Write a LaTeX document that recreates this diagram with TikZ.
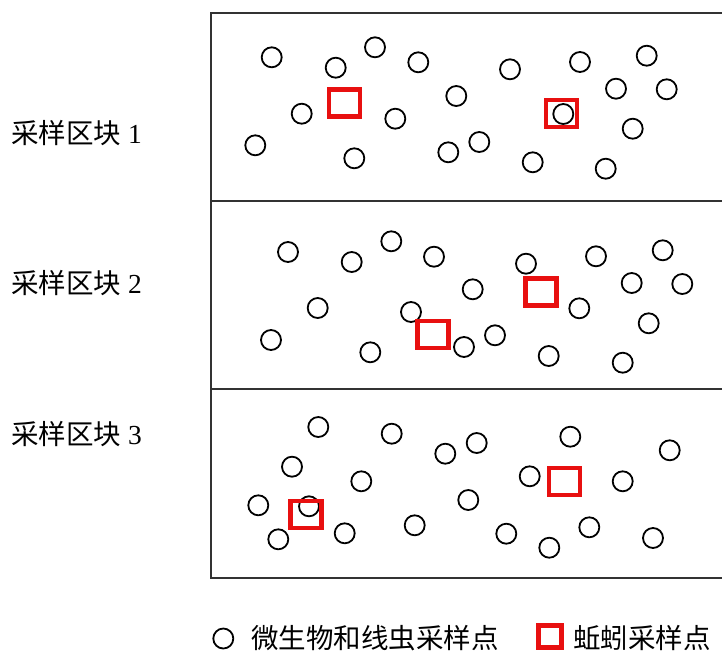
\documentclass[tikz,border=0pt]{standalone}
\usepackage{fontspec}
\setmainfont{Liberation Serif}
\newfontfamily\cjk{Noto Sans CJK SC}
\definecolor{sqred}{RGB}{232,16,16}
\definecolor{frame}{RGB}{50,50,50}
\begin{document}
\begin{tikzpicture}[x=1pt,y=-1pt,
  samp/.style={circle,draw=black,line width=1.8pt,minimum size=20pt,inner sep=0pt},
  worm/.style={rectangle,draw=sqred,line width=4.5pt,minimum width=31pt,minimum height=27pt,inner sep=0pt},
  lab/.style={anchor=west,inner sep=0pt,font=\fontsize{27.5}{30}\selectfont},
  leg/.style={anchor=west,inner sep=0pt,font=\fontsize{27.5}{30}\selectfont\cjk},
  frameline/.style={draw=frame,line width=2pt}]
\useasboundingbox (0,0) rectangle (722,659);
% frame
\draw[frameline] (722,13) -- (211,13) -- (211,577.7) -- (722,577.7);
\draw[frameline] (211,201) -- (722,201);
\draw[frameline] (211,389) -- (722,389);
% labels
\node[lab] (l1) at (11,133) {{\cjk 采样区块} 1};
\node[lab] (l2) at (11,283) {{\cjk 采样区块} 2};
\node[lab] (l3) at (11,434) {{\cjk 采样区块} 3};
% block 1 circles
\foreach \x/\y [count=\i] in {271.7/57.3,335.7/67.7,375/47.3,418.3/62.3,510/69.3,580/62,646.7/55.7,616/88.7,666.7/89.3,456.3/96,301.7/113.7,395.3/118.7,563.3/114,632.7/128.7,255.3/145.3,354.3/158.3,448.3/152.3,479.3/142,532.7/162.3,605.7/168.7}
  \node[samp] (a\i) at (\x,\y) {};
% block 2 circles
\foreach \x/\y [count=\i] in {288/252,351.7/262,391.3/241.3,434/256.7,526/263.7,596/256.3,662.7/250.3,631.7/283,682.3/284,472.7/289.3,317.7/308,411/312,579.3/308.3,648.7/323.3,271/340,370.3/352.3,464/347,495/335.3,548.7/356,622.7/362.7}
  \node[samp] (b\i) at (\x,\y) {};
% block 3 circles
\foreach \x/\y [count=\i] in {318.3/427,391.7/433.7,445.3/453.7,476.7/443,570.3/436.7,669.7/450.3,292/466.7,361.3/481.3,529.7/476.3,622.7/481.3,258.3/505.3,309/506.3,468.3/500,278.3/539.3,344.7/533.3,414.7/525.3,506.3/533.7,549.3/547.7,589.3/527.3,653/538}
  \node[samp] (c\i) at (\x,\y) {};
% earthworm squares
\node[worm] (wa1) at (344.5,103) {};
\node[worm] (wa2) at (561.3,113.3) {};
\node[worm] (wb1) at (432.8,334.5) {};
\node[worm] (wb2) at (541,291.8) {};
\node[worm] (wc1) at (306,514.5) {};
\node[worm] (wc2) at (564.3,481.3) {};
% legend
\node[samp] (legc) at (223.3,638.5) {};
\node[leg] (legct) at (251,638) {微生物和线虫采样点};
\node[worm,line width=5pt,minimum width=23pt,minimum height=22pt] (legs) at (550,636) {};
\node[leg] (legst) at (573,638) {蚯蚓采样点};
\end{tikzpicture}
\end{document}
